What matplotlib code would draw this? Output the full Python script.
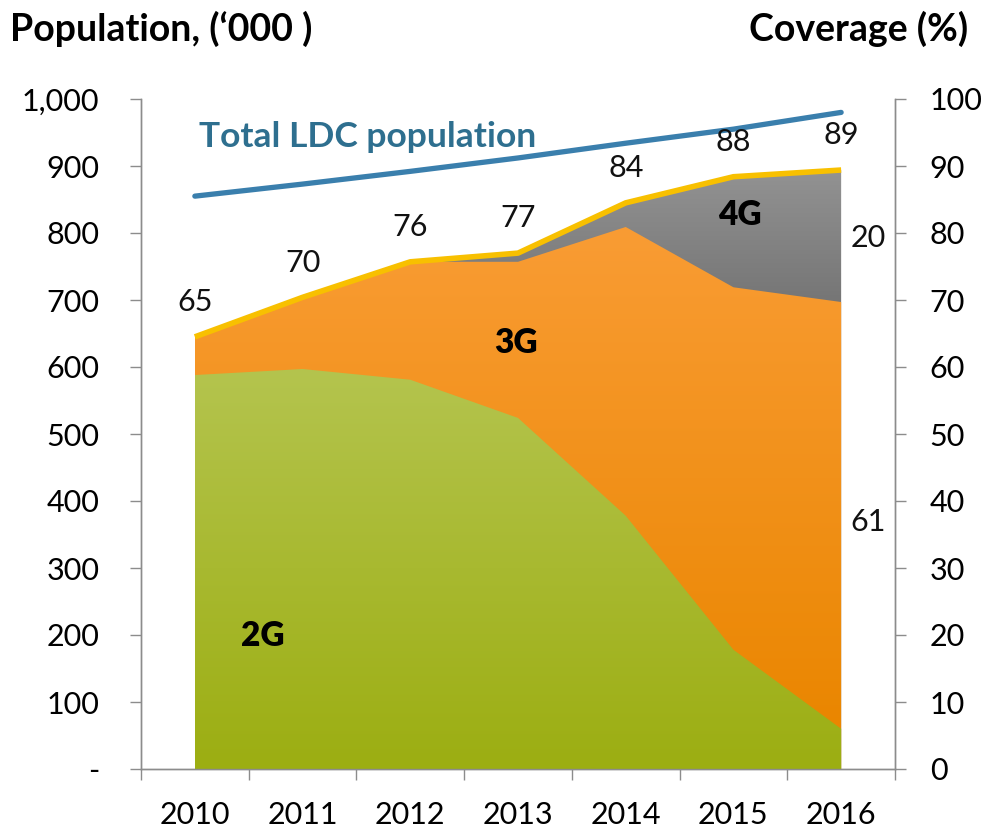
import numpy as np
import matplotlib
matplotlib.use('Agg')
import matplotlib.pyplot as plt
from matplotlib.colors import LinearSegmentedColormap
from matplotlib.patches import PathPatch

plt.rcParams['font.family'] = ['Lato', 'DejaVu Sans']

years = ['2010', '2011', '2012', '2013', '2014', '2015', '2016']
# total LDC population ('000), left axis
population = [855, 873, 892, 912, 934, 955, 980]
# coverage by technology (%), right axis, stacked
cov_2g = [58.8, 59.7, 58.1, 52.4, 37.8, 17.8, 6.0]
cov_3g = [5.7, 10.7, 17.6, 23.3, 43.1, 54.1, 63.7]
cov_4g = [0.0, 0.0, 0.0, 1.3, 3.6, 16.5, 19.7]
cov_labels = ['65', '70', '76', '77', '84', '88', '89']
end_labels = [('20', 79.3), ('61', 36.9)]

grey = '#8c8c8c'

fig = plt.figure(figsize=(9.95, 8.32), dpi=100)
ax = fig.add_axes([141 / 995, 1 - 769 / 832, 754 / 995, 670 / 832])
ax2 = ax.twinx()

x = np.arange(len(years))


def grad_fill(a, lower, upper, c_top, c_bot, z):
    # fill from zero up so stacked layers overlap without seams;
    # the gradient spans only the visible band
    poly = a.fill_between(x, 0, upper, color='none', lw=0)
    patch = PathPatch(poly.get_paths()[0], transform=a.transData, fc='none', ec='none')
    a.add_patch(patch)
    cmap = LinearSegmentedColormap.from_list('g', [c_bot, c_top])
    grad = np.linspace(0, 1, 256).reshape(-1, 1)
    lo, hi = min(lower), max(upper)
    im = a.imshow(np.vstack([np.zeros((1, 1)), grad]), cmap=cmap, origin='lower',
                  aspect='auto', zorder=z, interpolation='bilinear',
                  extent=[x[0], x[-1], 0, hi]) if lo == 0 else None
    if im is None:
        # pad below the band with the bottom colour
        n = 256
        frac = lo / hi
        vals = np.clip((np.linspace(0, hi, n) - lo) / (hi - lo), 0, 1).reshape(-1, 1)
        im = a.imshow(vals, cmap=cmap, origin='lower', aspect='auto', zorder=z,
                      interpolation='bilinear', extent=[x[0], x[-1], 0, hi])
    im.set_clip_path(patch)


b1 = np.array(cov_2g)
b2 = b1 + np.array(cov_3g)
b3 = b2 + np.array(cov_4g)

grad_fill(ax2, b2, b3, '#929292', '#6e6e6e', 1)
grad_fill(ax2, b1, b2, '#f99c34', '#ea8600', 1.1)
grad_fill(ax2, np.zeros(len(x)), b1, '#b4c44e', '#9cae12', 1.2)
ax2.plot(x, b3, color='#f8c000', lw=4, solid_capstyle='butt', zorder=3)

ax.plot(x, population, color='#3a7fad', lw=3.8, solid_capstyle='round', zorder=3)

for i, lab in enumerate(cov_labels):
    ax2.annotate(lab, (x[i], b3[i]), xytext=(0, 25), textcoords='offset points',
                 ha='center', va='center', fontsize=22, color='#111111')
for lab, yv in end_labels:
    ax2.text(6.25, yv, lab, ha='center', va='center', fontsize=22, color='#111111')

ax.text(0.04, 943, 'Total LDC population', fontsize=25.5, fontweight='bold',
        color='#2e6f8f', ha='left', va='center')
ax2.text(0.63, 19.8, '2G', fontsize=24, fontweight='heavy', ha='center', va='center', zorder=5)
ax2.text(2.98, 63.6, '3G', fontsize=24, fontweight='heavy', ha='center', va='center', zorder=5)
ax2.text(5.06, 82.7, '4G', fontsize=24, fontweight='heavy', ha='center', va='center', zorder=5)

fig.text(10 / 995, 1 - 29 / 832, 'Population, (\u2018000 )', fontsize=27,
         fontweight='bold', ha='left', va='center')
fig.text(968 / 995, 1 - 29 / 832, 'Coverage (%)', fontsize=27,
         fontweight='bold', ha='right', va='center')

ax.set_xlim(-0.5, 6.5)
ax.set_ylim(0, 1000)
ax2.set_ylim(0, 100)
ax2.set_xlim(-0.5, 6.5)

ax.set_yticks(range(0, 1001, 100))
ax.set_yticklabels(['-'] + [f'{v:,}' for v in range(100, 1001, 100)])
ax2.set_yticks(range(0, 101, 10))

ax.set_xticks(x)
ax.set_xticklabels(years)
ax.set_xticks(np.arange(-0.5, 7, 1), minor=True)
ax.tick_params(axis='x', which='major', length=0, pad=23, labelsize=22)
ax.tick_params(axis='x', which='minor', length=8, color=grey, width=1)
ax.tick_params(axis='y', length=8, color=grey, width=1, pad=22, labelsize=22)
ax2.tick_params(axis='y', length=8, color=grey, width=1, pad=17, labelsize=22)

for a in (ax, ax2):
    a.spines['top'].set_visible(False)
    for s in ('left', 'right', 'bottom'):
        a.spines[s].set_color(grey)
        a.spines[s].set_linewidth(1)

fig.savefig('out.png', dpi=100)
